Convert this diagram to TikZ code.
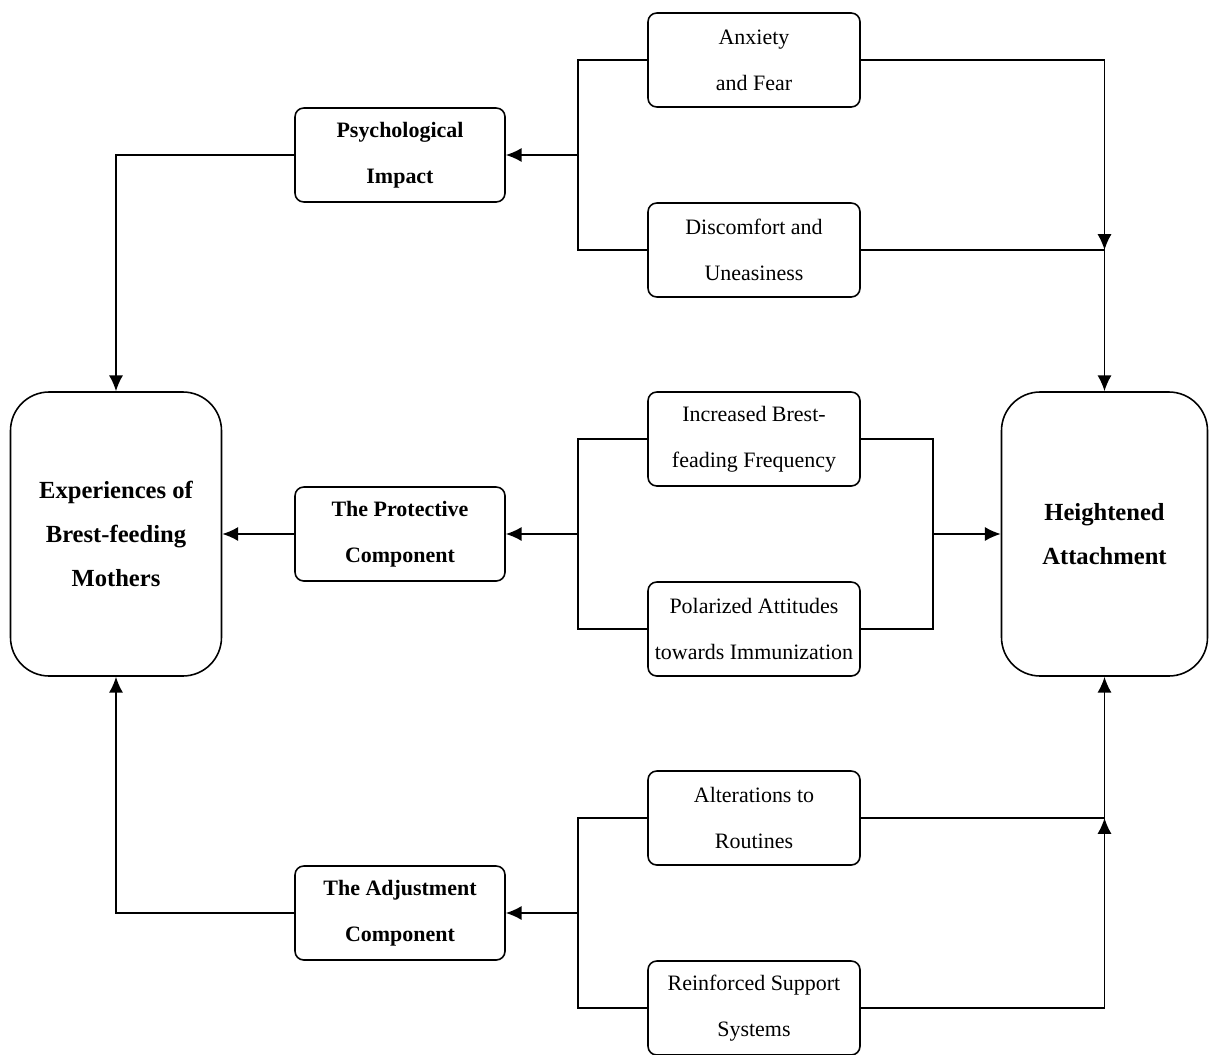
\documentclass[tikz,border=0pt]{standalone}
\usepackage{fontspec}
\setmainfont{Liberation Serif}
\usetikzlibrary{positioning,arrows.meta,calc}

\begin{document}
\begin{tikzpicture}[line width=0.9pt,node distance=1.9cm and 7.08cm,on grid,
	>={Latex[length=9pt,width=8pt]},
	sub/.style={draw,rounded corners=5pt,align=center,minimum width=4.24cm,minimum height=1.88cm,inner sep=1pt,font=\fontsize{12.5}{26}\selectfont},
	comp/.style={draw,rounded corners=5pt,align=center,minimum width=4.2cm,minimum height=1.88cm,font=\fontsize{12.5}{26}\selectfont\bfseries},
	core/.style={draw,rounded corners=22pt,align=center,minimum width=4.22cm,minimum height=5.68cm,font=\fontsize{14}{25}\selectfont\bfseries}]
	\useasboundingbox (0,0) rectangle (24.18,-21.1);
	\node[core] (exp) at (2.32,-10.68) {Experiences of\\Brest-feeding\\Mothers};
	\node[comp] (prot) [right=5.68cm of exp] {The Protective\\Component};
	\node[comp] (psy) [above=7.58cm of prot] {Psychological\\Impact};
	\node[comp] (adj) [below=7.58cm of prot] {The Adjustment\\Component};
	\node[core,minimum width=4.12cm] (heig) [right=14.09cm of prot] {Heightened\\Attachment};
	\node[sub] (anx) [above right=of psy] {Anxiety\\and Fear};
	\node[sub] (disc) [below right=of psy] {Discomfort and\\Uneasiness};
	\node[sub] (incr) [above right=of prot] {Increased Brest-\\feading Frequency};
	\node[sub] (pol) [below right=of prot] {Polarized Attitudes\\towards Immunization};
	\node[sub] (alt) [above right=of adj] {Alterations to\\Routines};
	\node[sub] (rein) [below right=of adj] {Reinforced Support\\Systems};
	% junctions
	\coordinate (pj) at ($(psy.east)+(1.44,0)$);
	\coordinate (mj) at ($(prot.east)+(1.44,0)$);
	\coordinate (aj) at ($(adj.east)+(1.44,0)$);
	\coordinate (mr) at ($(prot.east)+(8.54,0)$);
	% top branch
	\draw (anx.west) -| (pj) |- (disc.west);
	\draw[->] (pj) -- (psy.east);
	\draw[->] (psy.west) -| (exp.north);
	\draw[->] (anx.east) -| (disc.east -| heig.north);
	\draw[->] (disc.east) -| (heig.north);
	% middle branch
	\draw (incr.west) -| (mj) |- (pol.west);
	\draw[->] (mj) -- (prot.east);
	\draw[->] (prot.west) -- (exp.east);
	\draw (incr.east) -| (mr) |- (pol.east);
	\draw[->] (mr) -- (heig.west);
	% bottom branch
	\draw (alt.west) -| (aj) |- (rein.west);
	\draw[->] (aj) -- (adj.east);
	\draw[->] (adj.west) -| (exp.south);
	\draw[->] (rein.east) -| (alt.east -| heig.south);
	\draw[->] (alt.east) -| (heig.south);
\end{tikzpicture}
\end{document}
